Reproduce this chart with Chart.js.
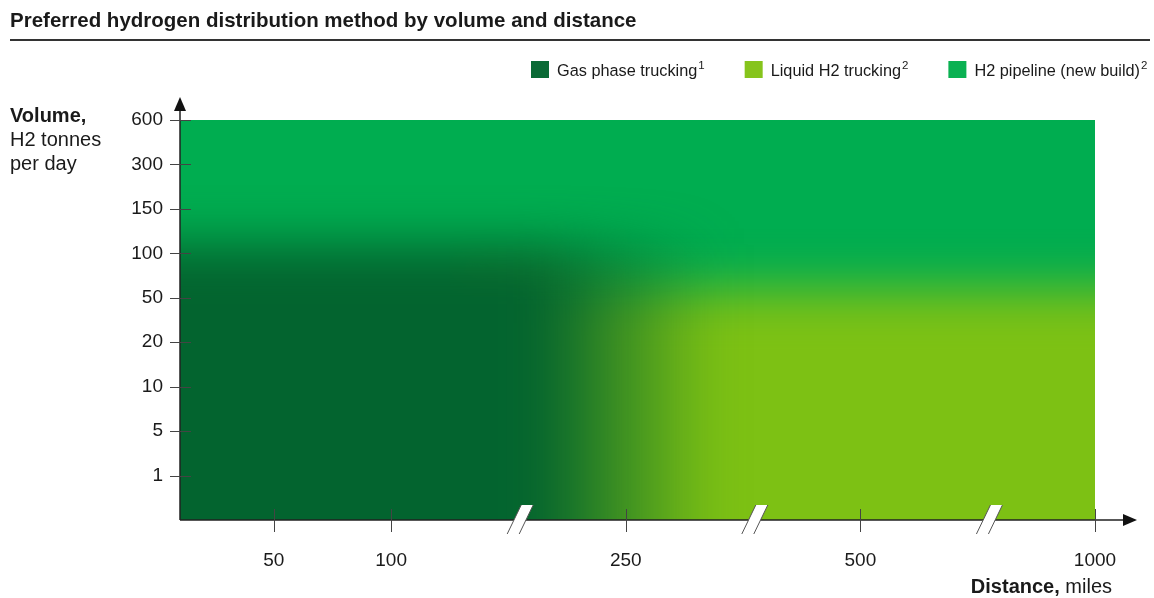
<!DOCTYPE html>
<html>
<head>
<meta charset="utf-8">
<script src="https://cdn.jsdelivr.net/npm/chart.js@4.4.1/dist/chart.umd.min.js"></script>
<style>
  body { margin: 0; background: #fff; }
  #wrap { width: 1154px; height: 598px; position: relative; }
</style>
</head>
<body>
<div id="wrap"><canvas id="distChart"></canvas></div>
<script>
// distance axis is broken, so every label sits on an index position
var distanceLabels = ["50", "100", "250", "500", "1000"];
var distancePos = [0, 1, 3, 5, 7];
var axisBreaks = [2.1, 4.1, 6.1];
var volumeLabels = ["1", "5", "10", "20", "50", "100", "150", "300", "600"];

// top edge of each method's zone (x = distance index, y = volume index)
var gasZone = [{x: -3, y: 5.2}, {x: 5, y: 5.2}];
var liquidZone = [{x: 1.5, y: 4.2}, {x: 12, y: 4.2}];
var pipelineZone = [{x: -3, y: 12}, {x: 12, y: 12}];
var gasFade = [2.25, 3.75]; // where gas trucking gives way to liquid trucking
var notes = ["1", "2", "2"];

var FONT = "'Liberation Sans', Arial, sans-serif";
var INK = "#1a1a1a";

function gasFill(context) {
    var chart = context.chart;
    if (!chart.chartArea) return "#03642f";
    var xs = chart.scales.x;
    var g = chart.ctx.createLinearGradient(xs.getPixelForValue(gasFade[0]), 0, xs.getPixelForValue(gasFade[1]), 0);
    g.addColorStop(0, "rgba(3,100,47,1)");
    g.addColorStop(1, "rgba(3,100,47,0)");
    return g;
}

// soft edges between zones + axis decorations
var decor = {
    id: "decor",
    beforeDatasetsDraw: function (chart) {
        chart.ctx.save();
        chart.ctx.filter = "blur(25px)";
    },
    afterDatasetsDraw: function (chart) {
        var ctx = chart.ctx;
        ctx.restore();
        ctx.filter = "none";
        var a = chart.chartArea, xs = chart.scales.x, ys = chart.scales.y;
        ctx.save();
        ctx.strokeStyle = "#222";
        ctx.fillStyle = "#111";
        ctx.lineWidth = 1.5;
        // axis lines
        ctx.beginPath();
        ctx.moveTo(a.left, a.bottom);
        ctx.lineTo(a.left, a.top - 14);
        ctx.moveTo(a.left, a.bottom);
        ctx.lineTo(a.right + 30, a.bottom);
        ctx.stroke();
        // arrows
        ctx.beginPath();
        ctx.moveTo(a.left, a.top - 23);
        ctx.lineTo(a.left - 6, a.top - 9);
        ctx.lineTo(a.left + 6, a.top - 9);
        ctx.closePath();
        ctx.fill();
        ctx.beginPath();
        ctx.moveTo(a.right + 42, a.bottom);
        ctx.lineTo(a.right + 28, a.bottom - 6);
        ctx.lineTo(a.right + 28, a.bottom + 6);
        ctx.closePath();
        ctx.fill();
        // tick marks
        ctx.strokeStyle = "#444";
        ctx.lineWidth = 1;
        ctx.beginPath();
        distancePos.forEach(function (v) {
            var px = Math.round(xs.getPixelForValue(v)) + 0.5;
            ctx.moveTo(px, a.bottom - 11);
            ctx.lineTo(px, a.bottom + 12);
        });
        volumeLabels.forEach(function (l, i) {
            var py = Math.round(ys.getPixelForValue(i)) + 0.5;
            ctx.moveTo(a.left - 10, py);
            ctx.lineTo(a.left + 11, py);
        });
        ctx.stroke();
        // axis breaks
        axisBreaks.forEach(function (b) {
            var c = xs.getPixelForValue(b), y0 = a.bottom + 14, y1 = a.bottom - 15;
            ctx.fillStyle = "#fff";
            ctx.beginPath();
            ctx.moveTo(c - 13, y0);
            ctx.lineTo(c - 1, y0);
            ctx.lineTo(c + 13, y1);
            ctx.lineTo(c + 1, y1);
            ctx.closePath();
            ctx.fill();
            ctx.strokeStyle = "#555";
            ctx.beginPath();
            ctx.moveTo(c - 13, y0);
            ctx.lineTo(c + 1, y1);
            ctx.moveTo(c - 1, y0);
            ctx.lineTo(c + 13, y1);
            ctx.stroke();
        });
        ctx.restore();
    },
    afterDraw: function (chart) {
        var ctx = chart.ctx;
        ctx.save();
        ctx.fillStyle = INK;
        ctx.textBaseline = "alphabetic";
        // title + rule
        ctx.font = "bold 20.5px " + FONT;
        ctx.fillText("Preferred hydrogen distribution method by volume and distance", 10, 27);
        ctx.strokeStyle = "#333";
        ctx.lineWidth = 2;
        ctx.beginPath();
        ctx.moveTo(10, 40);
        ctx.lineTo(1150, 40);
        ctx.stroke();
        // y axis title
        ctx.font = "bold 20px " + FONT;
        ctx.fillText("Volume,", 10, 122);
        ctx.font = "20px " + FONT;
        ctx.fillText("H2 tonnes", 10, 146);
        ctx.fillText("per day", 10, 170);
        // x axis title
        ctx.textAlign = "right";
        ctx.fillText(" miles", 1112, 593);
        var w = ctx.measureText(" miles").width;
        ctx.font = "bold 20px " + FONT;
        ctx.fillText("Distance,", 1112 - w, 593);
        // legend
        ctx.textAlign = "left";
        var x = 531;
        chart.data.datasets.forEach(function (ds, i) {
            ctx.fillStyle = ds.legendColor;
            ctx.fillRect(x, 61, 18, 17);
            x += 26;
            ctx.fillStyle = INK;
            ctx.font = "16.3px " + FONT;
            ctx.fillText(ds.label, x, 76);
            x += ctx.measureText(ds.label).width + 1;
            ctx.font = "11.5px " + FONT;
            ctx.fillText(notes[i], x, 69);
            x += ctx.measureText(notes[i]).width + 40;
        });
        ctx.restore();
    }
};

new Chart(document.getElementById("distChart"), {
    type: "line",
    data: {
        datasets: [{
            label: "Gas phase trucking",
            data: gasZone,
            backgroundColor: gasFill,
            legendColor: "#0a6a35",
            fill: {value: -5}
        }, {
            label: "Liquid H2 trucking",
            data: liquidZone,
            backgroundColor: "#7dc114",
            legendColor: "#86c41c",
            fill: {value: -5}
        }, {
            label: "H2 pipeline (new build)",
            data: pipelineZone,
            backgroundColor: "#00ad50",
            legendColor: "#0ab152",
            fill: {value: -5}
        }]
    },
    options: {
        responsive: true,
        maintainAspectRatio: false,
        animation: false,
        layout: {padding: {left: 110, right: 59, top: 120, bottom: 0}},
        elements: {line: {borderWidth: 0}, point: {radius: 0}},
        plugins: {legend: {display: false}, tooltip: {enabled: false}},
        scales: {
            x: {
                type: "linear",
                min: -0.8,
                max: 7,
                grid: {display: false, drawTicks: false},
                border: {display: false},
                afterBuildTicks: function (s) { s.ticks = distancePos.map(function (v) { return {value: v}; }); },
                afterFit: function (s) { s.height = 78; },
                ticks: {
                    autoSkip: false,
                    maxRotation: 0,
                    padding: 29,
                    color: INK,
                    font: {family: FONT, size: 19},
                    callback: function (v, i) { return distanceLabels[i]; }
                }
            },
            y: {
                type: "linear",
                min: -1,
                max: 8,
                grid: {display: false, drawTicks: false},
                border: {display: false},
                afterBuildTicks: function (s) { s.ticks = volumeLabels.map(function (l, i) { return {value: i}; }); },
                afterFit: function (s) { s.width = 70; },
                ticks: {
                    autoSkip: false,
                    padding: 17,
                    color: INK,
                    font: {family: FONT, size: 19},
                    callback: function (v, i) { return volumeLabels[i]; }
                }
            }
        }
    },
    plugins: [decor]
});
</script>
</body>
</html>
